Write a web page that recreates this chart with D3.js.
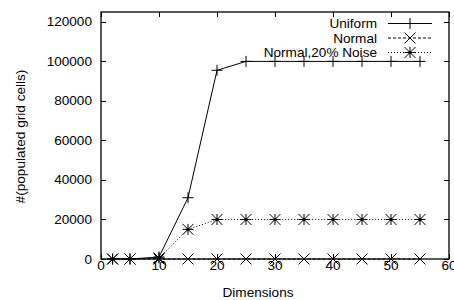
<!DOCTYPE html>
<html>
<head>
<meta charset="utf-8">
<script src="https://cdn.jsdelivr.net/npm/d3@7"></script>
<style>
  html, body { margin: 0; padding: 0; background: #fff; }
  text { font-family: "Liberation Sans", Arial, sans-serif; fill: #000; }
</style>
</head>
<body>
<div id="chart"></div>
<script>
// Data
const dims = [2, 5, 10, 15, 20, 25, 30, 35, 40, 45, 50, 55];
const uniform = [0, 0, 1000, 31000, 95500, 100000, 100000, 100000, 100000, 100000, 100000, 100000];
const normal = [0, 0, 0, 0, 0, 0, 0, 0, 0, 0, 0, 0];
const noise = [0, 0, 500, 15000, 20000, 20000, 20000, 20000, 20000, 20000, 20000, 20000];
const xTicks = [0, 10, 20, 30, 40, 50, 60];
const yTicks = [0, 20000, 40000, 60000, 80000, 100000, 120000];

const series = [
  { name: 'Uniform', values: uniform, dash: null, marker: 'plus' },
  { name: 'Normal', values: normal, dash: '3,2', marker: 'cross' },
  { name: 'Normal,20% Noise', values: noise, dash: '1,2', marker: 'star' },
];

const width = 454, height = 300;
const plotL = 101, plotR = 449, plotT = 12, plotB = 259;
const fs = '13.6px';

const svg = d3.select('#chart').append('svg')
  .attr('width', width).attr('height', height);

const x = d3.scaleLinear().domain([0, 60]).range([plotL, plotR]);
const y = d3.scaleLinear().domain([0, 125000]).range([plotB, plotT]);

// markers (gnuplot style)
function drawMarker(g, kind, cx, cy) {
  const s = 5.5;
  let d = '';
  if (kind === 'plus' || kind === 'star') {
    d += `M${cx - s},${cy}H${cx + s}M${cx},${cy - s}V${cy + s}`;
  }
  if (kind === 'cross' || kind === 'star') {
    d += `M${cx - s},${cy - s}L${cx + s},${cy + s}M${cx - s},${cy + s}L${cx + s},${cy - s}`;
  }
  g.append('path').attr('d', d)
    .attr('stroke', '#000').attr('stroke-width', 1).attr('fill', 'none');
  if (kind === 'star') {
    g.append('circle').attr('cx', cx).attr('cy', cy).attr('r', 1.6).attr('fill', '#000');
  }
}

// ticks (inward, mirrored)
const tl = 5;
const tickG = svg.append('g').attr('stroke', '#000').attr('stroke-width', 1);
xTicks.forEach(t => {
  const px = Math.round(x(t)) + 0.5;
  tickG.append('line').attr('x1', px).attr('x2', px).attr('y1', plotB).attr('y2', plotB - tl);
  tickG.append('line').attr('x1', px).attr('x2', px).attr('y1', plotT).attr('y2', plotT + tl);
});
yTicks.forEach(t => {
  const py = Math.round(y(t)) + 0.5;
  tickG.append('line').attr('x1', plotL).attr('x2', plotL + tl).attr('y1', py).attr('y2', py);
  tickG.append('line').attr('x1', plotR).attr('x2', plotR - tl).attr('y1', py).attr('y2', py);
});

// tick labels
xTicks.forEach(t => {
  svg.append('text').attr('x', x(t)).attr('y', 270)
    .attr('text-anchor', 'middle').attr('font-size', fs).text(t);
});
yTicks.forEach(t => {
  svg.append('text').attr('x', 92).attr('y', y(t) + 4.5)
    .attr('text-anchor', 'end').attr('font-size', fs).text(t);
});

// axis titles
svg.append('text').attr('x', (plotL + plotR) / 2 - 17).attr('y', 297)
  .attr('text-anchor', 'middle').attr('font-size', fs).text('Dimensions');
svg.append('text')
  .attr('transform', `translate(25,${(plotT + plotB) / 2 + 1}) rotate(-90)`)
  .attr('text-anchor', 'middle').attr('font-size', fs).text('#(populated grid cells)');

// series
const line = d3.line().x(d => x(d[0])).y(d => y(d[1]));
series.forEach(s => {
  const pts = dims.map((d, i) => [d, s.values[i]]);
  svg.append('path').datum(pts).attr('d', line)
    .attr('fill', 'none').attr('stroke', '#000').attr('stroke-width', 1)
    .attr('stroke-dasharray', s.dash);
  const g = svg.append('g');
  pts.forEach(p => drawMarker(g, s.marker, x(p[0]), y(p[1])));
});

// legend
series.forEach((s, i) => {
  const ly = 23.5 + i * 14.5;
  svg.append('text').attr('x', 377).attr('y', ly + 4.5)
    .attr('text-anchor', 'end').attr('font-size', fs).text(s.name);
  svg.append('line').attr('x1', 388).attr('x2', 432).attr('y1', ly).attr('y2', ly)
    .attr('stroke', '#000').attr('stroke-width', 1).attr('stroke-dasharray', s.dash);
  drawMarker(svg.append('g'), s.marker, 410, ly);
});

// frame
svg.append('rect').attr('x', plotL).attr('y', plotT)
  .attr('width', plotR - plotL).attr('height', plotB - plotT)
  .attr('fill', 'none').attr('stroke', '#000').attr('stroke-width', 1.3);
</script>
</body>
</html>
